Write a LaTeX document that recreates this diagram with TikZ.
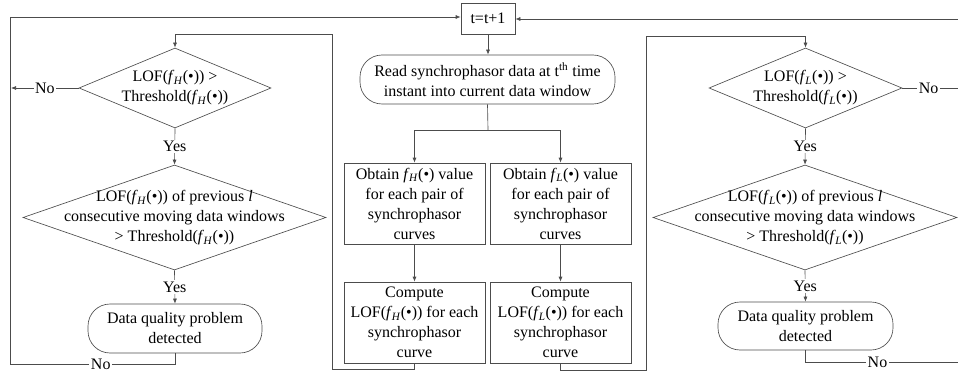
\documentclass[tikz,border=0pt]{standalone}
\usepackage{fontspec}
\setmainfont{Liberation Serif}
\newfontfamily\figfont{Liberation Serif}
\usetikzlibrary{shapes.geometric,arrows.meta}

% f_H(.) and f_L(.) as printed in the boxes
\newcommand{\fH}{\textit{f}\textsubscript{\kern-0.6pt\textit{H}}(\textbullet)}
\newcommand{\fL}{\textit{f}\textsubscript{\kern-0.6pt\textit{L}}(\textbullet)}

\begin{document}
\begin{tikzpicture}[x=1pt, y=-1pt,
  line width=0.65pt,
  every node/.style={font=\fontsize{16}{20}\selectfont\figfont},
  box/.style={draw=black!70, rectangle, minimum width=141pt, minimum height=81pt, inner sep=0pt, align=center},
  term/.style={draw=black!70, rectangle, rounded corners=22pt, inner sep=0pt, align=center},
  diam/.style={draw=black!70, diamond, inner sep=0pt},
  lbl/.style={fill=white, inner sep=1.5pt},
  link/.style={draw=black!70},
  arr/.style={link, -{Latex[length=5pt,width=4pt]}}]
\useasboundingbox (0,0) rectangle (958,377);

% central column
\node[box, minimum width=54pt, minimum height=31pt] (t) at (488,18.5) {t=t+1};
\node[term, minimum width=255pt, minimum height=49pt] (read) at (487.5,79.5)
  {Read synchrophasor data at t\textsuperscript{th} time\\instant into current data window};
\node[box] (obH) at (414.5,203.5) {Obtain \fH\ value\\for each pair of\\synchrophasor\\curves};
\node[box] (obL) at (560.5,203.5) {Obtain \fL\ value\\for each pair of\\synchrophasor\\curves};
\node[box] (cpH) at (414.5,322.5) {Compute\\LOF(\fH) for each\\synchrophasor\\curve};
\node[box] (cpL) at (560.5,322.5) {Compute\\LOF(\fL) for each\\synchrophasor\\curve};

% left branch (f_H)
\node[diam, minimum width=192pt, minimum height=80pt] (h1) at (175,88) {};
\node[align=center] at (h1) {LOF(\fH) >\\Threshold(\fH)};
\node[diam, minimum width=303pt, minimum height=105pt] (h2) at (174.5,217.5) {};
\node[align=center] at (h2) {LOF(\fH) of previous \textit{l}\\consecutive moving data windows\\> Threshold(\fH)};
\node[term, minimum width=174pt, minimum height=49pt] (hq) at (175,328.5) {Data quality problem\\detected};

% right branch (f_L)
\node[diam, minimum width=193pt, minimum height=80pt] (l1) at (805.5,88) {};
\node[align=center] at (l1) {LOF(\fL) >\\Threshold(\fL)};
\node[diam, minimum width=304pt, minimum height=105pt] (l2) at (805,217.5) {};
\node[align=center] at (l2) {LOF(\fL) of previous \textit{l}\\consecutive moving data windows\\> Threshold(\fL)};
\node[term, minimum width=175pt, minimum height=48pt] (lq) at (805.5,326) {Data quality problem\\detected};

% routing points
\coordinate (split) at (488,130);
\coordinate (hb) at (332,369);
\coordinate (ht) at (332,34);
\coordinate (lb) at (646,370);
\coordinate (lt) at (646,36);
\coordinate (hno) at (11,88);
\coordinate (lno) at (1000,88);
\coordinate (hc) at (175,364);
\coordinate (bl) at (10,364);
\coordinate (tl) at (10,17);
\coordinate (lc) at (805.5,362);
\coordinate (br) at (1000,362);
\coordinate (tr) at (1000,19);

% central flow
\draw[arr] (t.south) -- (t.south|-read.north);
\draw[link] (read.south) -- (split);
\draw[arr] (split) -| (obH.north);
\draw[arr] (split) -| (obL.north);
\draw[arr] (obH) -- (cpH);
\draw[arr] (obL) -- (cpL);

% loops into the detectors
\draw[arr] (cpH.south) |- (hb) -- (ht) -| (h1.north);
\draw[arr] (cpL.south) |- (lb) -- (lt) -| (l1.north);

% left detector
\draw[arr] (h1.south) -- node[lbl]{Yes} (h2.north);
\draw[arr] (h2.south) -- node[lbl]{Yes} (hq.north);
\draw[arr] (h1.west) -- node[lbl]{No} (hno);
\draw[arr] (hq.south) -- (hc) -- node[lbl, pos=0.45]{No} (bl) -- (tl) -- (t.west|-tl);

% right detector
\draw[arr] (l1.south) -- node[lbl]{Yes} (l2.north);
\draw[arr] (l2.south) -- node[lbl]{Yes} (lq.north);
\draw[link] (l1.east) -- node[lbl, pos=0.27]{No} (lno);
\draw[arr] (lq.south) -- (lc) -- node[lbl, pos=0.37]{No} (br) -- (tr) -- (t.east|-tr);
\end{tikzpicture}
\end{document}
